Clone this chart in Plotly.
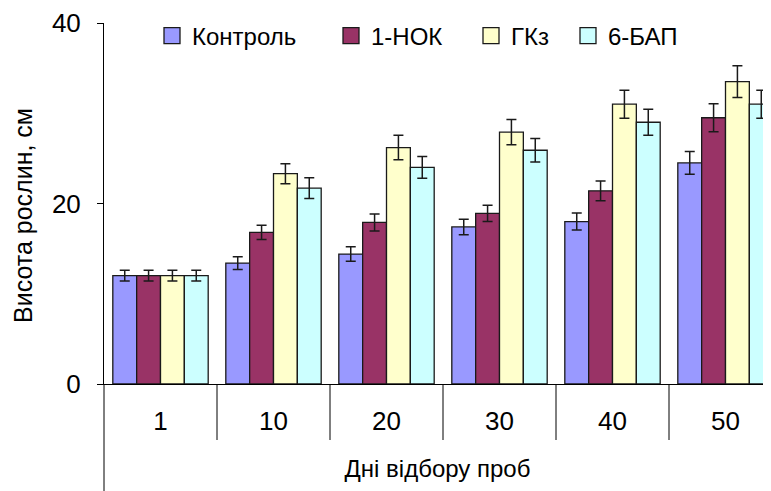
import plotly.graph_objects as go

days = ["1", "10", "20", "30", "40", "50"]
series_names = ["Контроль", "1-НОК", "ГКз", "6-БАП"]
control = [12.0, 13.4, 14.4, 17.4, 18.0, 24.5]
nok = [12.0, 16.8, 17.9, 18.9, 21.4, 29.5]
gkz = [12.0, 23.3, 26.2, 27.9, 31.0, 33.5]
bap = [12.0, 21.7, 24.0, 25.9, 29.0, 31.0]
control_err = [0.6, 0.7, 0.8, 0.85, 0.95, 1.25]
nok_err = [0.6, 0.8, 0.95, 0.9, 1.1, 1.55]
gkz_err = [0.6, 1.1, 1.35, 1.4, 1.55, 1.75]
bap_err = [0.6, 1.15, 1.2, 1.3, 1.45, 1.55]
colors = ["#9999FF", "#993366", "#FFFFCC", "#CCFFFF"]

values = [control, nok, gkz, bap]
errors = [control_err, nok_err, gkz_err, bap_err]

FONT = "Liberation Sans, Arial, sans-serif"
# page has an 8px body margin: figure spans window 8..771 / 8..491
OFF = 8
W, H = 771 - OFF, 491 - OFF
PLOT_L, PLOT_T, PLOT_B = 104, 23, 384          # window pixels
ML, MR, MT = PLOT_L - OFF, 0, PLOT_T - OFF
MB = H - (PLOT_B - OFF)
PW, PH = W - ML - MR, H - MT - MB

def px_x(px):
    return (px - PLOT_L) / PW

def px_y(py):
    return (PLOT_B - py) / PH

# legend entry left edges (window pixels) -> one legend per series
legend_px = [152, 331, 471, 568]
legend_ids = ["legend", "legend2", "legend3", "legend4"]

fig = go.Figure()
for name, vals, errs, col, lid in zip(series_names, values, errors, colors, legend_ids):
    fig.add_trace(go.Bar(
        name=name, x=days, y=vals, showlegend=False,
        marker=dict(color=col, line=dict(color="#1a1a1a", width=1.3)),
        error_y=dict(type="data", array=errs, visible=True,
                     color="#1a1a1a", thickness=1.5, width=5),
    ))
    fig.add_trace(go.Scatter(
        name=name, x=[None], y=[None], mode="markers", legend=lid,
        marker=dict(symbol="square", size=16, color=col,
                    line=dict(color="#1a1a1a", width=1.3)),
        hoverinfo="skip",
    ))

shapes = []
for i in range(1, len(days)):
    shapes.append(dict(type="line", xref="x", yref="paper",
                       x0=i - 0.5, x1=i - 0.5, y0=0, y1=px_y(440),
                       line=dict(color="black", width=1)))
shapes.append(dict(type="line", xref="paper", yref="paper",
                   x0=0, x1=0, y0=0, y1=px_y(491),
                   line=dict(color="black", width=1)))

layout_legends = {}
for lid, px in zip(legend_ids, legend_px):
    layout_legends[lid] = dict(
        orientation="h", x=px_x(px), xanchor="left",
        y=px_y(36), yanchor="middle",
        font=dict(size=24), bgcolor="rgba(0,0,0,0)",
    )

fig.update_layout(
    width=W, height=H,
    margin=dict(l=ML, r=MR, t=MT, b=MB, autoexpand=False),
    paper_bgcolor="white", plot_bgcolor="white",
    barmode="group", bargap=0.156, bargroupgap=0,
    font=dict(family=FONT, size=24, color="black"),
    showlegend=True,
    shapes=shapes,
    annotations=[dict(text="Висота рослин, см", xref="paper", yref="paper",
                      x=px_x(23), y=px_y(216), xanchor="center", yanchor="middle",
                      textangle=-90, showarrow=False, borderpad=0,
                      font=dict(size=25))],
    **layout_legends,
)
fig.update_xaxes(
    type="category", range=[-0.5, -0.5 + PW / 113.0], automargin=False,
    showline=True, linecolor="black", linewidth=1,
    ticks="outside", ticklen=14, tickcolor="rgba(0,0,0,0)",
    showgrid=False, zeroline=False,
    tickfont=dict(size=26),
    title=dict(text="Дні відбору проб", font=dict(size=24), standoff=24),
)
fig.update_yaxes(
    range=[0, 40], dtick=20, tick0=0, automargin=False,
    showline=True, linecolor="black", linewidth=1,
    ticks="outside", ticklen=6, tickcolor="black", ticklabelstandoff=11,
    showgrid=False, zeroline=False,
    tickfont=dict(size=26),
)

fig.write_html("out.html")
